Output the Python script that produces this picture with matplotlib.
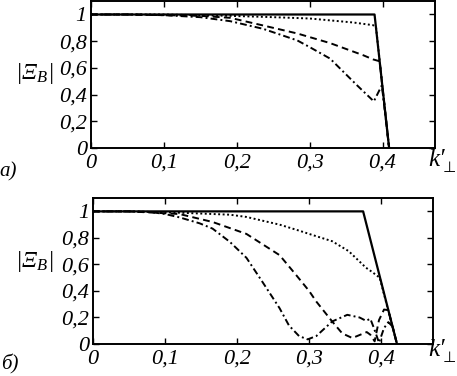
"""
Plots the magnitude of the reflection coefficient |Xi_B| against k'_perp
for two sets of parameters (panels a and b).
"""

import matplotlib

matplotlib.use("Agg")

import matplotlib.pyplot as plt

plt.rcParams["font.family"] = ["Liberation Serif", "DejaVu Serif"]
# Only the y label uses mathtext, and there even the Greek letter is italic
plt.rcParams["mathtext.fontset"] = "custom"
plt.rcParams["mathtext.rm"] = "Liberation Serif:italic"
plt.rcParams["mathtext.it"] = "Liberation Serif:italic"
plt.rcParams["mathtext.bf"] = "Liberation Serif:bold"
plt.rcParams["mathtext.fallback"] = "stix"

# Tick positions and labels (comma decimal separator)
x_ticks: list[float] = [0.0, 0.1, 0.2, 0.3, 0.4]
x_tick_labels: list[str] = ["0", "0,1", "0,2", "0,3", "0,4"]
y_ticks: list[float] = [0.0, 0.2, 0.4, 0.6, 0.8, 1.0]
y_tick_labels: list[str] = ["0", "0,2", "0,4", "0,6", "0,8", "1"]

# Panel a) curves
solid_a_k = [0.0, 0.389, 0.409]
solid_a_v = [1.0, 1.0, 0.0]

dotted_a_k = [0.0, 0.1, 0.19, 0.25, 0.3, 0.33, 0.36, 0.387, 0.391, 0.409]
dotted_a_v = [1.0, 1.0, 0.99, 0.98, 0.97, 0.955, 0.94, 0.92, 0.905, 0.0]

dashed_a_k = [0.0, 0.05, 0.1, 0.15, 0.191, 0.236, 0.283, 0.328, 0.374, 0.387, 0.396, 0.409]
dashed_a_v = [1.0, 1.0, 0.995, 0.99, 0.975, 0.918, 0.858, 0.786, 0.694, 0.664, 0.65, 0.0]

dashdot_a_k = [0.0, 0.05, 0.1, 0.15, 0.191, 0.236, 0.283, 0.3, 0.328, 0.365, 0.388, 0.399, 0.409]
dashdot_a_v = [1.0, 1.0, 0.995, 0.98, 0.95, 0.893, 0.806, 0.756, 0.67, 0.47, 0.35, 0.47, 0.0]

# Panel б) curves
solid_b_k = [0.0, 0.375, 0.422]
solid_b_v = [1.0, 1.0, 0.0]

dotted_b_k = [0.0, 0.05, 0.12, 0.19, 0.213, 0.259, 0.286, 0.3, 0.332, 0.355, 0.379, 0.387, 0.398, 0.422]
dotted_b_v = [1.0, 1.0, 0.99, 0.975, 0.958, 0.9, 0.855, 0.83, 0.775, 0.7, 0.575, 0.545, 0.5, 0.0]

dashed_b_k = [0.0, 0.05, 0.12, 0.166, 0.213, 0.259, 0.282, 0.3, 0.31, 0.332, 0.346,
              0.36, 0.38, 0.385, 0.391, 0.397, 0.404, 0.41, 0.422]
dashed_b_v = [1.0, 1.0, 0.98, 0.92, 0.83, 0.67, 0.52, 0.4, 0.32, 0.17, 0.08,
              0.045, 0.09, 0.07, 0.02, 0.18, 0.26, 0.255, 0.0]

dashdot_b_k = [0.0, 0.05, 0.08, 0.1, 0.12, 0.148, 0.166, 0.19, 0.213, 0.235, 0.259, 0.272,
               0.286, 0.298, 0.31, 0.332, 0.353, 0.37, 0.379, 0.385, 0.39, 0.397,
               0.404, 0.41, 0.416, 0.422]
dashdot_b_v = [1.0, 1.0, 0.995, 0.98, 0.955, 0.91, 0.87, 0.77, 0.65, 0.47, 0.27, 0.14,
               0.06, 0.035, 0.06, 0.17, 0.22, 0.2, 0.175, 0.19, 0.12, 0.01,
               0.12, 0.165, 0.13, 0.0]

LW: float = 1.4
FS: float = 16


def style_axes(ax: plt.Axes) -> None:
    """
    Applies the common axis limits, ticks and frame style.
    """
    ax.set_xlim(0, 0.472)
    ax.set_ylim(0, 1.1)
    ax.set_xticks(x_ticks)
    ax.set_xticklabels(x_tick_labels, fontstyle="italic")
    ax.set_yticks(y_ticks)
    ax.set_yticklabels(y_tick_labels, fontstyle="italic")
    ax.tick_params(
        direction="in",
        top=True,
        right=True,
        length=4,
        width=1.0,
        labelsize=FS,
    )
    ax.tick_params(axis="x", pad=4)
    ax.tick_params(axis="y", pad=3)
    for spine in ax.spines.values():
        spine.set_linewidth(1.4)


def draw_curves(ax: plt.Axes, solid, dotted, dashed, dashdot) -> None:
    """
    Draws the four curves of one panel.
    """
    ax.plot(*solid, color="black", linewidth=LW + 0.2, linestyle="-")
    ax.plot(*dotted, color="black", linewidth=LW, linestyle=(0, (1, 1.3)))
    ax.plot(*dashed, color="black", linewidth=LW, linestyle=(0, (3.5, 2.2)))
    ax.plot(*dashdot, color="black", linewidth=LW, linestyle=(0, (3.5, 1.6, 1, 1.6)))


def x_label(y_px: float) -> None:
    """
    Writes k'_perp by hand next to the right end of the x axis.
    """
    fig.text(428 / 457, 1 - y_px / 376, "k′", fontsize=FS + 2, fontstyle="italic",
             ha="left", va="center")
    fig.text(443 / 457, 1 - (y_px + 8) / 376, "⊥", fontsize=FS - 5,
             family=["DejaVu Sans"], ha="left", va="center")


fig = plt.figure(figsize=(4.57, 3.76), dpi=100)

ax_a = fig.add_axes([0.199, 0.606, 0.753, 0.391])
ax_b = fig.add_axes([0.2035, 0.0851, 0.744, 0.388])

draw_curves(
    ax_a,
    (solid_a_k, solid_a_v),
    (dotted_a_k, dotted_a_v),
    (dashed_a_k, dashed_a_v),
    (dashdot_a_k, dashdot_a_v),
)
draw_curves(
    ax_b,
    (solid_b_k, solid_b_v),
    (dotted_b_k, dotted_b_v),
    (dashed_b_k, dashed_b_v),
    (dashdot_b_k, dashdot_b_v),
)

style_axes(ax_a)
style_axes(ax_b)

# Axis labels placed by hand, like in the original figure
ylabel = r"$|\Xi_B|$"
fig.text(34 / 457, 1 - 74 / 376, ylabel, fontsize=FS + 1, ha="center", va="center")
fig.text(34 / 457, 1 - 262 / 376, ylabel, fontsize=FS + 1, ha="center", va="center")
x_label(160)
x_label(350)

fig.text(8 / 457, 1 - 172 / 376, "а)", fontsize=FS - 1, fontstyle="italic",
         ha="center", va="center")
fig.text(10 / 457, 1 - 364 / 376, "б)", fontsize=FS - 1, fontstyle="italic",
         ha="center", va="center")

fig.savefig("out.png", dpi=100)
